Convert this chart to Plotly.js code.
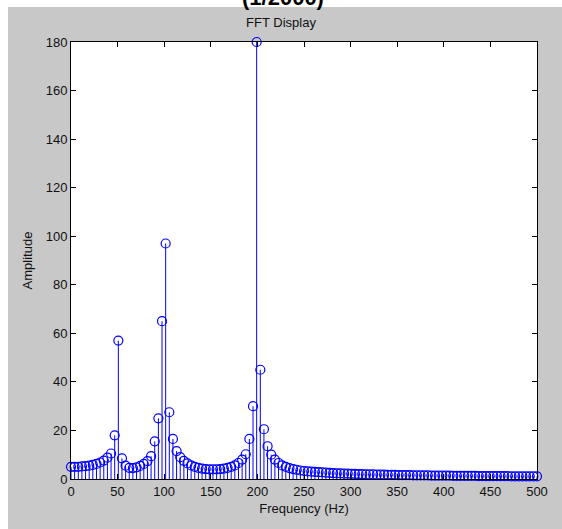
<!DOCTYPE html>
<html><head><meta charset="utf-8">
<script src="https://cdn.plot.ly/plotly-3.0.1.min.js"></script>
<style>html,body{margin:0;padding:0;background:#fff}#chart{width:562px;height:529px}</style>
</head><body><div id="chart"></div>
<script>
// FFT bins: fs = 1000 Hz, N = 256 -> 129 bins from 0 to 500 Hz
const binIndex = Array.from({length:129},(_,k)=>k);
const freqStep = 1000/256;
const amplitude = [
 5.0,5.0,5.0,5.2,5.3,5.5,5.8,6.2,6.8,7.6,8.8,10.5,18,57,8.5,5.5,
 4.6,4.5,4.8,5.4,6.2,7.4,9.4,15.5,25,65,97,27.5,16.5,11.5,9.0,7.5,
 6.4,5.6,5.0,4.6,4.3,4.1,4.0,4.0,4.0,4.1,4.3,4.6,5.0,5.6,6.6,8.0,
 10.2,16.5,30,180,45,20.5,13.5,10,8.0,6.6,5.6,5.0,4.5,4.1,3.8,3.5,
 3.3,3.1,3.0,2.9,2.8,2.7,2.6,2.5,2.4,2.3,2.3,2.2,2.2,2.1,2.1,2.0,
 2.0,1.9,1.9,1.9,1.8,1.8,1.8,1.7,1.7,1.7,1.6,1.6,1.6,1.6,1.5,1.5,
 1.5,1.5,1.5,1.4,1.4,1.4,1.4,1.4,1.4,1.3,1.3,1.3,1.3,1.3,1.3,1.3,
 1.2,1.2,1.2,1.2,1.2,1.2,1.2,1.2,1.2,1.1,1.1,1.1,1.1,1.1,1.1,1.1,1.1
];
const freq = binIndex.map(k=>k*freqStep);
const xTicks = [0,50,100,150,200,250,300,350,400,450,500];
const yTicks = [0,20,40,60,80,100,120,140,160,180];

const stemX=[], stemY=[];
freq.forEach((f,i)=>{stemX.push(f,f,null);stemY.push(0,amplitude[i],null);});

const blue='#0000ff';
const font={family:'"Liberation Sans", Arial, sans-serif',size:13,color:'#111'};
const data=[
 {x:stemX,y:stemY,type:'scatter',mode:'lines',line:{color:blue,width:1},hoverinfo:'skip',cliponaxis:false},
 {x:freq,y:amplitude,type:'scatter',mode:'markers',cliponaxis:false,
  marker:{symbol:'circle-open',size:9,color:blue,line:{width:1.2,color:blue}}}
];
const axisCommon={showgrid:false,zeroline:false,showline:true,linecolor:'#000',linewidth:1,
  mirror:'ticks',ticks:'inside',ticklen:5,tickcolor:'#000',tickfont:font};
const layout={
 width:562,height:529,showlegend:false,
 paper_bgcolor:'#c8c8c8',plot_bgcolor:'#fff',
 margin:{l:71,r:25,t:42,b:50},
 font:font,
 title:{text:'FFT Display',font:{...font,size:13},x:0.5,xanchor:'center',y:1-22/529,yanchor:'middle'},
 xaxis:{...axisCommon,range:[0,500],tickvals:xTicks,ticktext:xTicks.map(String),
   title:{text:'Frequency (Hz)',font:{...font,size:13},standoff:6}},
 yaxis:{...axisCommon,range:[0,180],tickvals:yTicks,ticktext:yTicks.map(String),
   title:{text:'Amplitude',font:{...font,size:13},standoff:10}},
 shapes:[
  {type:'rect',xref:'paper',yref:'paper',x0:-0.2,x1:1.2,y0:(479-7)/437,y1:1.3,fillcolor:'#fff',line:{width:0},layer:'above'},
  {type:'rect',xref:'paper',yref:'paper',x0:-0.2,x1:(8-71)/466,y0:-0.2,y1:1.3,fillcolor:'#fff',line:{width:0},layer:'above'}
 ],
 annotations:[
  {text:'<b>(1/2000)</b>',xref:'paper',yref:'paper',x:(283-71)/466,y:(479+3)/437,xanchor:'center',yanchor:'middle',
   showarrow:false,font:{family:'"Liberation Sans", Arial, sans-serif',size:22,color:'#000'}}
 ]
};
Plotly.newPlot('chart',data,layout,{displayModeBar:false,staticPlot:true});
</script></body></html>
